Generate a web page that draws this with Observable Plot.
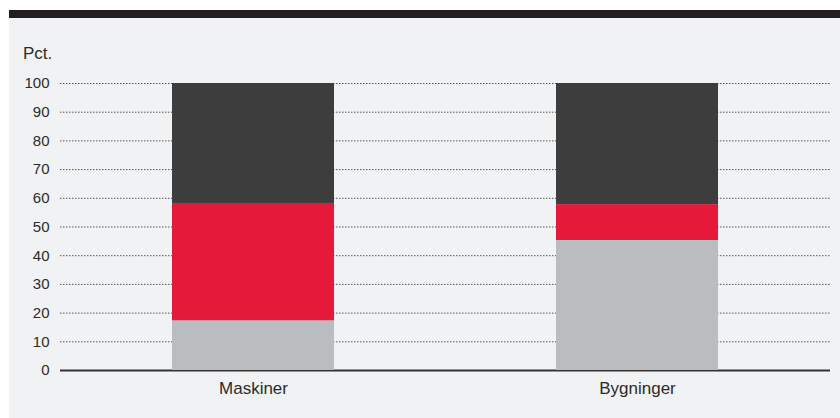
<!DOCTYPE html>
<html>
<head>
<meta charset="utf-8">
<script src="https://cdn.jsdelivr.net/npm/d3@7"></script>
<script src="https://cdn.jsdelivr.net/npm/@observablehq/plot@0.6"></script>
<style>
  html, body { margin: 0; padding: 0; background: #ffffff; }
  body { width: 840px; height: 418px; position: relative; overflow: hidden; font-family: "Liberation Sans", Arial, sans-serif; }
  #panel { position: absolute; left: 9px; top: 10px; width: 831px; height: 400px; border-top: 8px solid #231f20; background: #f1f2f4; }
  #unit { position: absolute; left: 14px; top: 27px; font-size: 17px; color: #2b2b2b; line-height: 17px; }
  #chart { position: absolute; left: 0; top: 52px; }
</style>
</head>
<body>
<div id="panel">
  <div id="unit">Pct.</div>
  <div id="chart"></div>
</div>
<script>
const categories = ["Maskiner", "Bygninger"];
const seriesNames = ["Serie 1", "Serie 2", "Serie 3"];
const serie1 = [17.3, 45.3];
const serie2 = [40.9, 12.5];
const serie3 = [41.8, 42.2];
const seriesColors = ["#bbbcbf", "#e5193a", "#3d3d3d"];
const yTicks = [0, 10, 20, 30, 40, 50, 60, 70, 80, 90, 100];

const seriesValues = [serie1, serie2, serie3];
const rows = [];
seriesNames.forEach((s, i) => {
  categories.forEach((c, j) => rows.push({category: c, series: s, value: seriesValues[i][j]}));
});

const chart = Plot.plot({
  width: 831,
  height: 348,
  marginLeft: 51,
  marginRight: 10,
  marginTop: 13,
  marginBottom: 48,
  style: {background: "transparent", fontFamily: "'Liberation Sans', Arial, sans-serif", color: "#2b2b2b"},
  x: {domain: categories, paddingInner: 0.578, paddingOuter: 0.29, label: null},
  y: {domain: [0, 100], label: null},
  color: {domain: seriesNames, range: seriesColors},
  marks: [
    Plot.ruleY(yTicks.filter(d => d > 0), {stroke: "#555", strokeWidth: 1, strokeDasharray: "1.5,1.5"}),
    Plot.ruleY([0], {stroke: "#333", strokeWidth: 2}),
    Plot.barY(rows, Plot.stackY({x: "category", y: "value", fill: "series", order: seriesNames})),
    Plot.axisY({ticks: yTicks, tickSize: 0, tickPadding: 11, fontSize: 15, label: null}),
    Plot.axisX({tickSize: 0, tickPadding: 11, fontSize: 17, label: null})
  ]
});
document.getElementById("chart").appendChild(chart);
</script>
</body>
</html>
